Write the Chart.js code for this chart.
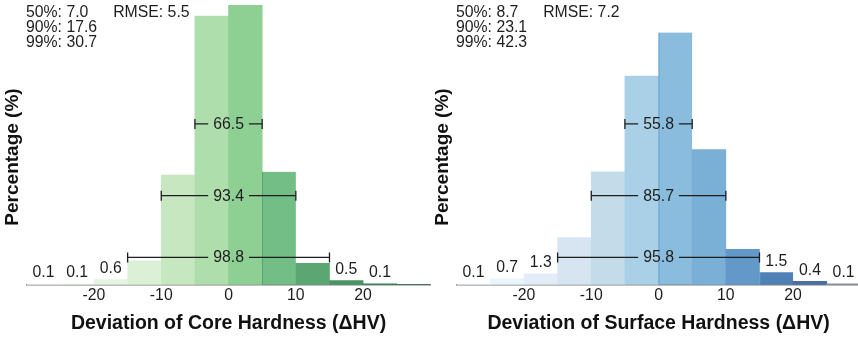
<!DOCTYPE html>
<html>
<head>
<meta charset="utf-8">
<title>Hardness deviation histograms</title>
<script src="https://cdn.jsdelivr.net/npm/chart.js@4.4.1/dist/chart.umd.min.js"></script>
<style>
  html, body { margin: 0; padding: 0; background: #fff; overflow: hidden; }
  #wrap { position: relative; width: 858px; height: 338px; overflow: hidden; }
  .panel { position: absolute; top: 0; width: 431px; height: 338px; }
  #core-panel { left: 0; }
  #surface-panel { left: 430px; }
</style>
</head>
<body>
<div id="wrap">
  <div class="panel" id="core-panel"><canvas id="core-chart" width="431" height="338"></canvas></div>
  <div class="panel" id="surface-panel"><canvas id="surface-chart" width="431" height="338"></canvas></div>
</div>
<script>
  // 히스토그램 데이터 (5 HV 폭 구간의 중심값)
  const binCenters = [-27.5, -22.5, -17.5, -12.5, -7.5, -2.5, 2.5, 7.5, 12.5, 17.5, 22.5, 27.5];
  const xTicks = [-20, -10, 0, 10, 20];

  const corePct = [0.1, 0.1, 0.6, 2.9, 13.3, 32.6, 33.9, 13.7, 2.6, 0.5, 0.1, 0];
  const surfacePct = [0.1, 0.7, 1.3, 5.7, 13.7, 25.3, 30.6, 16.4, 4.3, 1.5, 0.4, 0.1];

  const coreStats = ["50%: 7.0", "90%: 17.6", "99%: 30.7"];
  const surfaceStats = ["50%: 8.7", "90%: 23.1", "99%: 42.3"];
  const coreRmse = "RMSE: 5.5";
  const surfaceRmse = "RMSE: 7.2";

  // [from, to, percentage inside]
  const coreIntervals = [[-5, 5, 66.5], [-10, 10, 93.4], [-15, 15, 98.8]];
  const surfaceIntervals = [[-5, 5, 55.8], [-10, 10, 85.7], [-15, 15, 95.8]];

  const coreColors = ["#f7fcf5", "#f0f9ed", "#e6f5e2", "#dcf0d6", "#c7e7c0", "#addeab",
    "#8ecf94", "#73bd86", "#5ba673", "#4a9462", "#2f7d4c", "#23693d"];
  const surfaceColors = ["#f4f9fe", "#eaf4fb", "#e2ecf7", "#d6e5f1", "#c4dcea", "#a9d0e6",
    "#8abcdd", "#7aafd6", "#6299c8", "#4f80b6", "#4a6fa0", "#8a909a"];

  const FONT = "'Liberation Sans', Arial, Helvetica, sans-serif";
  Chart.defaults.font.family = FONT;
  Chart.defaults.color = "#1e1e1e";

  // 라벨, 구간 표시, 통계 텍스트를 그리는 플러그인
  const overlayPlugin = {
    id: "overlay",
    afterDatasetsDraw(chart, args, opts) {
      const ctx = chart.ctx;
      const xs = chart.scales.x;
      const ys = chart.scales.y;
      const meta = chart.getDatasetMeta(0);
      const values = chart.data.datasets[0].data;

      ctx.save();
      ctx.fillStyle = "#1e1e1e";
      ctx.strokeStyle = "#1e1e1e";
      ctx.font = `15.8px ${FONT}`;
      ctx.textAlign = "center";
      ctx.textBaseline = "middle";

      // 바깥쪽 구간 값 라벨
      values.forEach((d, i) => {
        if (Math.abs(d.x) < 15 || d.y <= 0) return;
        const bar = meta.data[i];
        ctx.fillText(d.y.toFixed(1), bar.x, bar.y - 11);
      });

      // 구간 괄호
      ctx.lineWidth = 1.3;
      opts.intervals.forEach((iv, k) => {
        const x1 = xs.getPixelForValue(iv[0]);
        const x2 = xs.getPixelForValue(iv[1]);
        const y = ys.getPixelForValue(opts.levels[k]);
        const cx = (x1 + x2) / 2;
        const label = iv[2].toFixed(1);
        const half = ctx.measureText(label).width / 2 + 5;
        ctx.beginPath();
        ctx.moveTo(x1, y - 5);
        ctx.lineTo(x1, y + 5);
        ctx.moveTo(x2, y - 5);
        ctx.lineTo(x2, y + 5);
        ctx.moveTo(x1, y);
        ctx.lineTo(cx - half, y);
        ctx.moveTo(cx + half, y);
        ctx.lineTo(x2, y);
        ctx.stroke();
        ctx.fillText(label, cx, y + 0.5);
      });

      // 통계 텍스트
      ctx.textAlign = "left";
      opts.stats.forEach((s, i) => {
        ctx.fillText(s, chart.chartArea.left - 0.7, 12.5 + i * 15);
      });
      ctx.fillText(opts.rmse, chart.chartArea.left + 86.5, 12.5);

      // y축 제목
      ctx.translate(13, 157);
      ctx.rotate(-Math.PI / 2);
      ctx.textAlign = "center";
      ctx.font = `bold 19px ${FONT}`;
      ctx.fillStyle = "#111";
      ctx.fillText("Percentage (%)", 0, 0);
      ctx.restore();
    },
  };

  function makeChart(canvasId, values, colors, edgeBars, edgeColor, xTitle, stats, rmse, intervals) {
    const ctx = document.getElementById(canvasId).getContext("2d");
    return new Chart(ctx, {
      type: "bar",
      data: {
        datasets: [
          {
            data: binCenters.map((x, i) => ({ x, y: values[i] })),
            backgroundColor: colors,
            borderColor: edgeColor,
            borderWidth: (c) => (edgeBars.includes(c.dataIndex) ? { left: 1.2, top: 0, right: 0, bottom: 0 } : 0),
            borderSkipped: false,
            barPercentage: 1,
            categoryPercentage: 1,
          },
        ],
      },
      options: {
        responsive: false,
        animation: false,
        layout: { padding: { top: 4.5, left: 26.7, right: 0.6, bottom: 0 } },
        plugins: {
          legend: { display: false },
          tooltip: { enabled: false },
          overlay: { stats, rmse, intervals, levels: [19.5, 10.8, 3.3] },
        },
        scales: {
          x: {
            type: "linear",
            min: -30,
            max: 30,
            offset: false,
            afterBuildTicks: (scale) => {
              scale.ticks = xTicks.map((v) => ({ value: v }));
            },
            grid: { display: false, drawTicks: false, offset: false },
            border: { display: true, color: "#7f7f7f", width: 1.5 },
            ticks: { font: { size: 15.8 }, color: "#1e1e1e", padding: 1.5 },
            title: {
              display: true,
              text: xTitle,
              color: "#111",
              font: { size: 19.5, weight: "bold" },
              padding: { top: 5.5, bottom: 2.5 },
            },
          },
          y: { display: false, min: 0, max: 34 },
        },
      },
      plugins: [overlayPlugin],
    });
  }

  makeChart("core-chart", corePct, coreColors, [7], "#5aa86c",
    "Deviation of Core Hardness (\u0394HV)", coreStats, coreRmse, coreIntervals);
  makeChart("surface-chart", surfacePct, surfaceColors, [6, 9], "#5f9fcc",
    "Deviation of Surface Hardness (\u0394HV)", surfaceStats, surfaceRmse, surfaceIntervals);
</script>
</body>
</html>
